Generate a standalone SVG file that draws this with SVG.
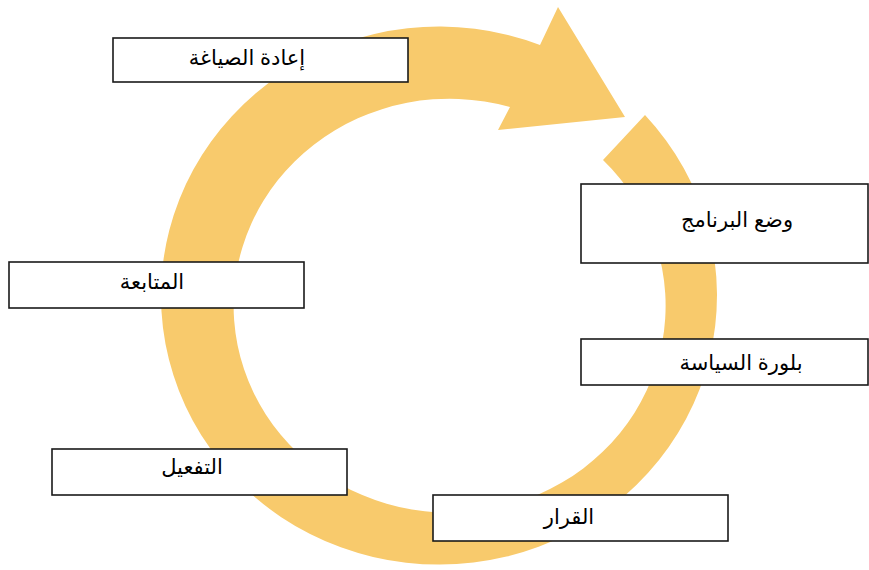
<svg xmlns="http://www.w3.org/2000/svg" width="869" height="570" viewBox="0 0 869 570">
<style>
.box{fill:#fff;stroke:#1a1a1a;stroke-width:1.6}
.lbl{font-family:"Liberation Sans","DejaVu Sans",sans-serif;font-size:21px;fill:#000;text-anchor:middle}
.band{fill:#F8CA6C}
</style>
<rect width="869" height="570" fill="#fff"/>
<g id="connectors">
<path class="band" d="M 645 115 A 278 269 0 1 1 540 45 L 558 7 L 625 117 L 498 130 L 510 107 A 216 207 0 1 0 603 160 Z"/>
</g>
<g id="node-reformulation">
<rect class="box" x="113" y="38" width="295" height="44"/>
<text class="lbl" x="247" y="65">إعادة الصياغة</text>
</g>
<g id="node-program">
<rect class="box" x="581" y="184" width="287" height="79"/>
<text class="lbl" x="737" y="227">وضع البرنامج</text>
</g>
<g id="node-policy">
<rect class="box" x="581" y="339" width="287" height="46"/>
<text class="lbl" x="741" y="370">بلورة السياسة</text>
</g>
<g id="node-followup">
<rect class="box" x="9" y="262" width="295" height="46"/>
<text class="lbl" x="152" y="289">المتابعة</text>
</g>
<g id="node-activation">
<rect class="box" x="52" y="449" width="295" height="46"/>
<text class="lbl" x="192" y="474">التفعيل</text>
</g>
<g id="node-decision">
<rect class="box" x="433" y="495" width="295" height="46"/>
<text class="lbl" x="569" y="524">القرار</text>
</g>
</svg>
